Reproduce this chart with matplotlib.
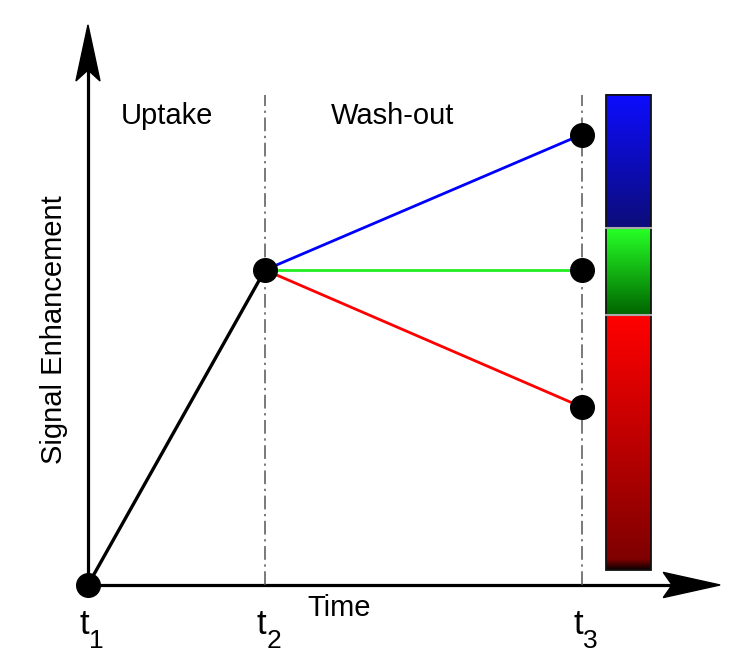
import numpy as np
import matplotlib
matplotlib.use("Agg")
import matplotlib.pyplot as plt

plt.rcParams['font.family'] = ['Liberation Sans', 'DejaVu Sans']

# time points and signal levels (relative units)
times = [0.0, 1.0, 2.79]
time_subs = ["1", "2", "3"]
uptake = [0.0, 1.0]
washout_colors = ["blue", "#22ee22", "red"]
washout_levels = [1.43, 1.0, 0.565]
phase_names = ["Uptake", "Wash-out"]

XL = (-0.497, 3.74)
YL = (-0.254, 1.857)

fig = plt.figure(figsize=(7.5, 6.65), dpi=100)
ax = fig.add_axes([0, 0, 1, 1])
ax.axis("off")

# axis lines with notched arrow heads
ax.plot([0, 0], [0, 1.66], color="black", lw=2.3, solid_capstyle="butt")
ax.plot([0, 3.4], [0, 0], color="black", lw=2.3, solid_capstyle="butt")
yh = np.array([[0, 1.778], [-0.068, 1.60], [0, 1.635], [0.068, 1.60]])
xh = np.array([[3.571, 0], [3.25, 0.040], [3.30, 0], [3.25, -0.040]])
ax.add_patch(plt.Polygon(yh, closed=True, color="black", zorder=4))
ax.add_patch(plt.Polygon(xh, closed=True, color="black", zorder=4))

# dash-dot time markers
for t in times[1:]:
    ax.plot([t, t], [0, 1.556], color="#555555", lw=1.1,
            ls=(0, (9, 3, 1.5, 3)))

# uptake line
ax.plot(times[:2], uptake, color="black", lw=2.4)
# wash-out lines
for c, v in zip(washout_colors, washout_levels):
    ax.plot([times[1], times[2]], [uptake[1], v], color=c, lw=2.0)
    ax.plot(times[2], v, "o", color="black", ms=17, zorder=5)
ax.plot(times[:2], uptake, "o", color="black", ms=17, ls="none", zorder=5)

# colour bar on the right
def grad(c0, c1, n=100):
    a = np.linspace(0, 1, n)[:, None]
    return (np.array(c0)[None, :] * (1 - a) + np.array(c1)[None, :] * a)[:, None, :]

x0, x1 = 2.927, 3.18
bands = [
    (grad([0.05, 0.05, 1.0], [0.05, 0.05, 0.48]), 1.556, 1.135),
    (grad([0.15, 1.0, 0.15], [0.0, 0.40, 0.0]), 1.128, 0.86),
    (grad([1.0, 0.0, 0.0], [0.50, 0.0, 0.0]), 0.853, 0.08),
    (grad([0.50, 0.0, 0.0], [0.03, 0.0, 0.0]), 0.08, 0.047),
]
for img, yt, yb in bands:
    ax.imshow(img, extent=[x0, x1, yb, yt], aspect="auto", zorder=2)
ax.add_patch(plt.Rectangle((x0, 0.047), x1 - x0, 1.556 - 0.047, fill=False,
                           ec="#111111", lw=1.3, zorder=3))
for yb in [1.132, 0.857]:
    ax.plot([x0, x1], [yb, yb], color="#aaaaaa", lw=1.5, zorder=3)

ax.set_xlim(*XL)
ax.set_ylim(*YL)

# texts
ax.text(0.446, 1.49, phase_names[0], fontsize=21, ha="center", va="center")
ax.text(1.72, 1.49, phase_names[1], fontsize=21, ha="center", va="center")
ax.text(-0.19, 0.81, "Signal Enhancement", fontsize=21, rotation=90,
        ha="center", va="center")
ax.text(1.42, -0.073, "Time", fontsize=21, ha="center", va="center")
for t, s in zip(times, time_subs):
    ax.annotate("t", (t, -0.156), xytext=(1, 0), textcoords="offset points",
                fontsize=25, ha="right", va="baseline")
    ax.annotate(s, (t, -0.2), xytext=(1, 0), textcoords="offset points",
                fontsize=19, ha="left", va="baseline")

fig.savefig("out.png", dpi=100)
